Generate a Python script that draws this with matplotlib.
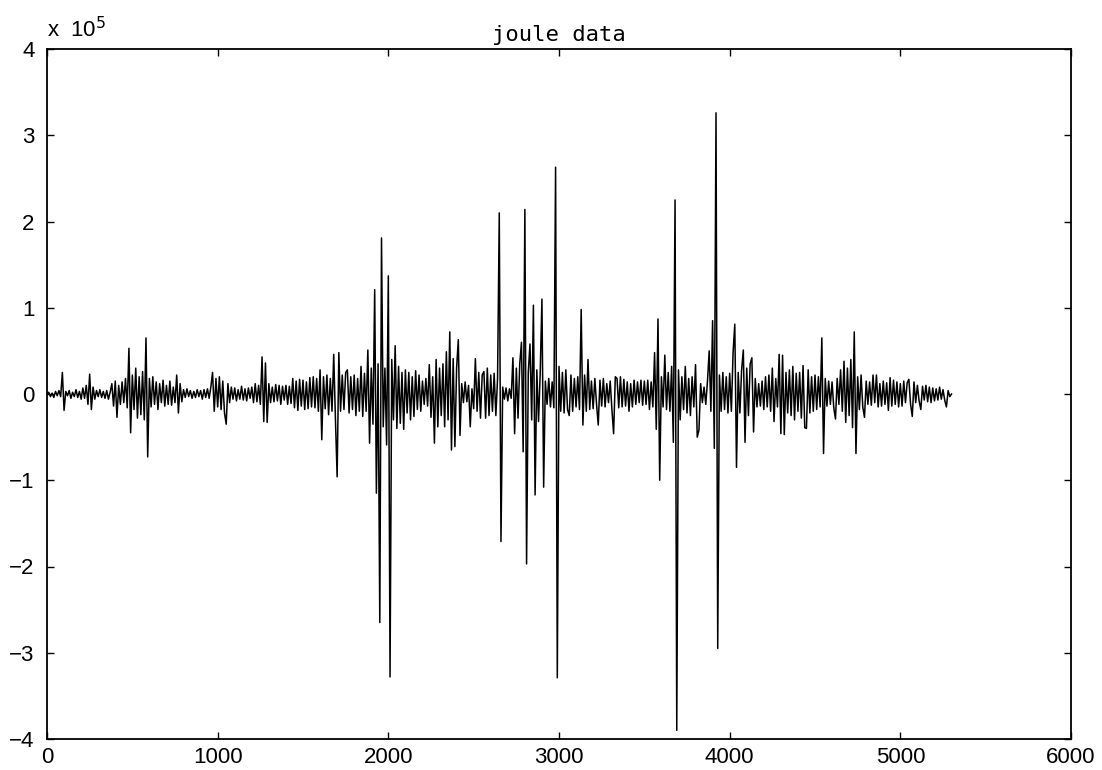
import numpy as np
import matplotlib
matplotlib.use("Agg")
import matplotlib.pyplot as plt
from matplotlib.ticker import FixedLocator, FuncFormatter

# sample spacing of the values below (samples)
step = 10

# signal values in thousands, one row = 100 samples
seg_0000 = [
    0, 2, -3, 1, -4, 3, -2, 4, -3, 25,
    -19, 3, -2, 4, -5, 2, -3, 5, -4, 3,
    -6, 7, -5, 10, -12, 23, -18, 8, -6, 4,
    -3, 5, -4, 3, -5, 4, -6, 2, 12, -14,
    15, -27, 10, -12, 14, -10, 18, -16, 53, -45,
    22, -18, 30, -28, 20, -24, 26, -30, 65, -73,
    18, -15, 20, -12, 14, -18, 12, -10, 16, -14,
    10, -12, 15, -13, 8, -10, 22, -22, 12, -9,
    5, -4, 6, -3, 4, -5, 3, -4, 5, -3,
    4, -6, 5, -4, 6, -5, 8, 25, -20, 18,
]
seg_1000 = [
    -15, 20, -18, 15, -22, -35, 12, -10, 8, -6,
    7, -8, 5, -6, 9, -7, 6, -8, 7, -5,
    8, -10, 12, -9, 10, -12, 43, -32, 36, -33,
    12, -10, 8, -9, 11, -8, 10, -12, 9, -7,
    10, -12, 9, -11, 18, -16, 15, -19, 17, -14,
    16, -18, 14, -17, 19, -15, 20, -16, 18, -20,
    28, -53, 20, -17, 22, -24, 18, -20, 46, -29,
    -96, 48, -20, 22, -18, 25, 28, -22, 20, -18,
    22, -25, 18, -20, 32, -26, 24, -20, 51, -57,
    30, -35, 121, -115, 35, -265, 181, -38, 30, -59,
]
seg_2000 = [
    137, -328, 40, -30, 56, -40, 32, -34, 25, -41,
    28, -22, 25, -30, 20, -26, 27, -18, 22, -20,
    15, -12, 18, -14, 34, -27, 20, -57, 40, -38,
    30, -25, 35, -38, 49, -30, 72, -65, 41, -61,
    30, 63, -48, 12, -10, 14, -9, 10, -38, 6,
    -17, 41, -20, 25, -28, 22, 26, -28, 30, -25,
    22, -20, 24, -25, 18, 210, -171, 8, -6, 7,
    -8, 6, -5, 42, -46, 30, -28, 35, 60, -67,
    214, -197, 25, 58, -30, 103, -117, 28, -32, 25,
    110, -108, 15, -12, 18, -15, 14, -16, 263, -329,
]
seg_3000 = [
    32, -20, 25, -22, 28, -18, -25, 22, -20, 18,
    -15, 20, -18, 98, -36, 22, -20, 40, -18, 15,
    -17, 18, -12, -36, 16, -14, 18, -15, 12, -10,
    15, -18, -46, 20, 18, -16, 20, -15, 17, -14,
    14, -20, 12, -15, 16, -12, 14, -10, 16, -13,
    15, -12, 16, -18, 14, -15, 48, -41, 87, -100,
    20, -15, 45, -18, 25, -20, 32, -56, 225, -390,
    28, -30, 20, -18, 32, -22, 18, -25, 20, -15,
    34, -50, -42, 12, -10, 8, -12, 15, 50, -20,
    85, -63, 326, -295, 22, -20, 25, -18, 20, -22,
]
seg_4000 = [
    24, -20, 48, 81, -85, 25, -22, 28, 51, -56,
    30, -25, 35, 42, -44, 18, -15, 12, -14, 15,
    -18, 20, -15, 22, -20, 30, -32, 18, -15, 46,
    -46, 45, -47, 25, -22, 28, -25, 32, -30, 24,
    -20, 25, -28, 33, -39, -40, 28, -22, 20, -20,
    22, -18, 20, -15, 65, -69, 18, -14, 15, -12,
    14, -16, -29, 18, -12, 28, -20, 38, -33, 30,
    -25, 40, -39, 72, -69, 20, -18, 22, -15, -27,
    15, -12, 14, -13, 22, -10, 22, -15, 12, -14,
    15, -12, 13, -19, 19, -14, 16, -12, 14, -15,
    12, -14, 15, -10, 13, 17, -12, -26, 14, -10,
    10, -8, -18, 9, -7, 10, -9, 8, -10, 7,
    -8, 6, -7, 8, -6, 5, -7, -15, 4, -3,
    0,
]

x_ticks = [0, 1000, 2000, 3000, 4000, 5000, 6000]
y_ticks = [-4, -3, -2, -1, 0, 1, 2, 3, 4]
title = "joule data"

vals = np.array(seg_0000 + seg_1000 + seg_2000 + seg_3000 + seg_4000, dtype=float) * 1e3
samples = np.arange(len(vals)) * step

fig = plt.figure(figsize=(11.02, 7.70), dpi=100)
ax = fig.add_axes([47 / 1102, 31 / 770, (1071 - 47) / 1102, (739 - 49) / 770])
ax.plot(samples, vals, color="black", linewidth=1.1)

ax.set_xlim(0, 6000)
ax.set_ylim(-4e5, 4e5)
ax.xaxis.set_major_locator(FixedLocator(x_ticks))
ax.yaxis.set_major_locator(FixedLocator([v * 1e5 for v in y_ticks]))
ax.xaxis.set_major_formatter(FuncFormatter(lambda v, p: f"{int(round(v))}"))
ax.yaxis.set_major_formatter(FuncFormatter(lambda v, p: f"{int(round(v / 1e5))}".replace("-", "\u2212")))

ax.tick_params(direction="in", length=5, width=1, top=True, right=True,
               labelsize=16, pad=6, colors="black")
for lab in ax.get_xticklabels() + ax.get_yticklabels():
    lab.set_fontfamily("Liberation Sans")
    lab.set_fontsize(16)
ax.tick_params(axis="y", pad=9)
for sp in ax.spines.values():
    sp.set_linewidth(1.3)

ax.set_title(title, fontsize=16, family="DejaVu Sans Mono", pad=6)
ax.text(0.0, 1.01, r"x  10$^5$", transform=ax.transAxes, ha="left", va="bottom",
        fontsize=16, family="Liberation Sans")

fig.savefig("out.png", dpi=100)
